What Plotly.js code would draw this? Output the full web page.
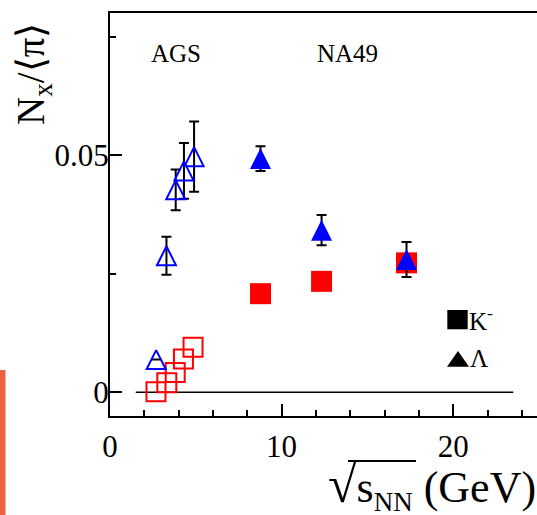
<!DOCTYPE html>
<html><head><meta charset="utf-8">
<script src="https://cdn.plot.ly/plotly-3.0.1.min.js"></script>
<style>html,body{margin:0;padding:0;overflow:hidden;background:#fff}</style>
</head><body><div id="chart" style="width:545px;height:515px"></div>
<script>
// AGS (open markers)
const agsKEnergy = [2.68, 3.31, 3.80, 4.28, 4.84];
const agsKminus = [0.0001, 0.0020, 0.0042, 0.0070, 0.0095];
const agsLambdaEnergy = [2.69, 3.29, 3.83, 4.31, 4.90];
const agsLambda = [0.0069, 0.0288, 0.0427, 0.0467, 0.0497];
const agsLambdaErr = [null, 0.0040, 0.0043, 0.0059, 0.0074];
// NA49 (filled markers)
const na49Energy = [8.77, 12.33, 17.28];
const na49Kminus = [0.0208, 0.0234, 0.0273];
const na49Lambda = [0.0493, 0.0342, 0.0280];
const na49LambdaErr = [0.0026, 0.0032, 0.0037];
// reference line at zero
const refLineX = [1.5, 23.5];
const refLineY = [0, 0];
// ticks
const xTickVals = [0, 10, 20];
const xTickText = ['0', '10', '20'];
const yTickVals = [0, 0.05];
const yTickText = ['0', '0.05'];

const serif = '"Liberation Serif", "Times New Roman", serif';
const L = 110, PW = 429, T = 13, PH = 403; // plot area in px
const px = v => (v - L) / PW;
const py = v => (T + PH - v) / PH;

const traces = [
  {x: refLineX, y: refLineY, mode: 'lines', line: {color: 'black', width: 1.5}, hoverinfo: 'skip', showlegend: false},
  {x: agsKEnergy, y: agsKminus, mode: 'markers', showlegend: false,
   marker: {symbol: 'square-open', size: 19, color: '#ff0000', line: {width: 2, color: '#ff0000'}}},
  {x: agsLambdaEnergy, y: agsLambda, mode: 'markers', showlegend: false,
   marker: {symbol: 'arrow-down-open', angle: 180, standoff: 9.5, size: 19, color: '#0000ff', line: {width: 2, color: '#0000ff'}},
   error_y: {type: 'data', array: agsLambdaErr, visible: true, color: 'black', thickness: 2, width: 5}},
  {x: na49Energy, y: na49Kminus, mode: 'markers', showlegend: false,
   marker: {symbol: 'square', size: 21, color: '#ff0000', line: {width: 0}}},
  {x: na49Energy, y: na49Lambda, mode: 'markers', showlegend: false,
   marker: {symbol: 'arrow-down', angle: 180, standoff: 10.5, size: 21, color: '#0000ff', line: {width: 0}},
   error_y: {type: 'data', array: na49LambdaErr, visible: true, color: 'black', thickness: 2, width: 5}}
];

const axisCommon = {
  showline: true, linewidth: 2, linecolor: 'black', mirror: true,
  ticks: 'inside', ticklen: 12, tickwidth: 2, tickcolor: 'black',
  showgrid: false, zeroline: false, tickmode: 'array',
  tickfont: {family: serif, size: 31, color: 'black'}
};

const layout = {
  width: 545, height: 515,
  margin: {l: L, r: 545 - L - PW, t: T, b: 515 - T - PH, pad: 0},
  paper_bgcolor: 'white', plot_bgcolor: 'white',
  showlegend: false,
  xaxis: Object.assign({}, axisCommon, {
    range: [0, 25], tickvals: xTickVals, ticktext: xTickText, ticklabelstandoff: 2,
    minor: {ticks: 'inside', dtick: 2, tick0: 0, ticklen: 6, tickwidth: 2, tickcolor: 'black'}
  }),
  yaxis: Object.assign({}, axisCommon, {
    range: [-0.005, 0.08], tickvals: yTickVals, ticktext: yTickText, ticklabelstandoff: -7,
    minor: {ticks: 'inside', dtick: 0.025, tick0: 0, ticklen: 6, tickwidth: 2, tickcolor: 'black'}
  }),
  annotations: [
    {xref: 'paper', yref: 'paper', x: px(176), y: py(53), text: 'AGS', showarrow: false,
     xanchor: 'center', yanchor: 'middle', font: {family: serif, size: 25, color: 'black'}},
    {xref: 'paper', yref: 'paper', x: px(347.6), y: py(53), text: 'NA49', showarrow: false,
     xanchor: 'center', yanchor: 'middle', font: {family: serif, size: 25, color: 'black'}},
    {xref: 'paper', yref: 'paper', x: px(467), y: py(319), text: 'K<sup>-</sup>', showarrow: false,
     xanchor: 'left', yanchor: 'middle', font: {family: serif, size: 25, color: 'black'}},
    {xref: 'paper', yref: 'paper', x: px(468), y: py(358), text: 'Λ', showarrow: false,
     xanchor: 'left', yanchor: 'middle', font: {family: serif, size: 25, color: 'black'}},
    {xref: 'paper', yref: 'paper', x: px(33), y: py(74), text: 'N<sub>x</sub>/⟨π⟩', showarrow: false,
     textangle: -90, xanchor: 'center', yanchor: 'middle', font: {family: serif, size: 39, color: 'black'}},
    {xref: 'paper', yref: 'paper', x: px(538), y: py(486),
     text: '<span style="font-size:52px">√</span>s<sub><span style="font-size:27px">NN</span></sub> (GeV)', showarrow: false,
     xanchor: 'right', yanchor: 'middle', font: {family: serif, size: 44, color: 'black'}}
  ],
  shapes: [
    {type: 'rect', xref: 'paper', yref: 'paper', x0: px(447.3), x1: px(467.7), y0: py(329.3), y1: py(310),
     fillcolor: 'black', line: {width: 0}},
    {type: 'path', xref: 'paper', yref: 'paper',
     path: 'M ' + px(447) + ' ' + py(366.7) + ' L ' + px(469) + ' ' + py(366.7) + ' L ' + px(458) + ' ' + py(351) + ' Z',
     fillcolor: 'black', line: {width: 0}},
    {type: 'line', xref: 'paper', yref: 'paper', x0: px(348), x1: px(416), y0: py(461), y1: py(461),
     line: {color: 'black', width: 2}},
    {type: 'rect', xref: 'paper', yref: 'paper', x0: px(0), x1: px(5.5), y0: py(515), y1: py(370),
     fillcolor: 'rgb(234,99,66)', line: {width: 0}}
  ]
};

Plotly.newPlot('chart', traces, layout, {staticPlot: true, displayModeBar: false});
</script></body></html>
